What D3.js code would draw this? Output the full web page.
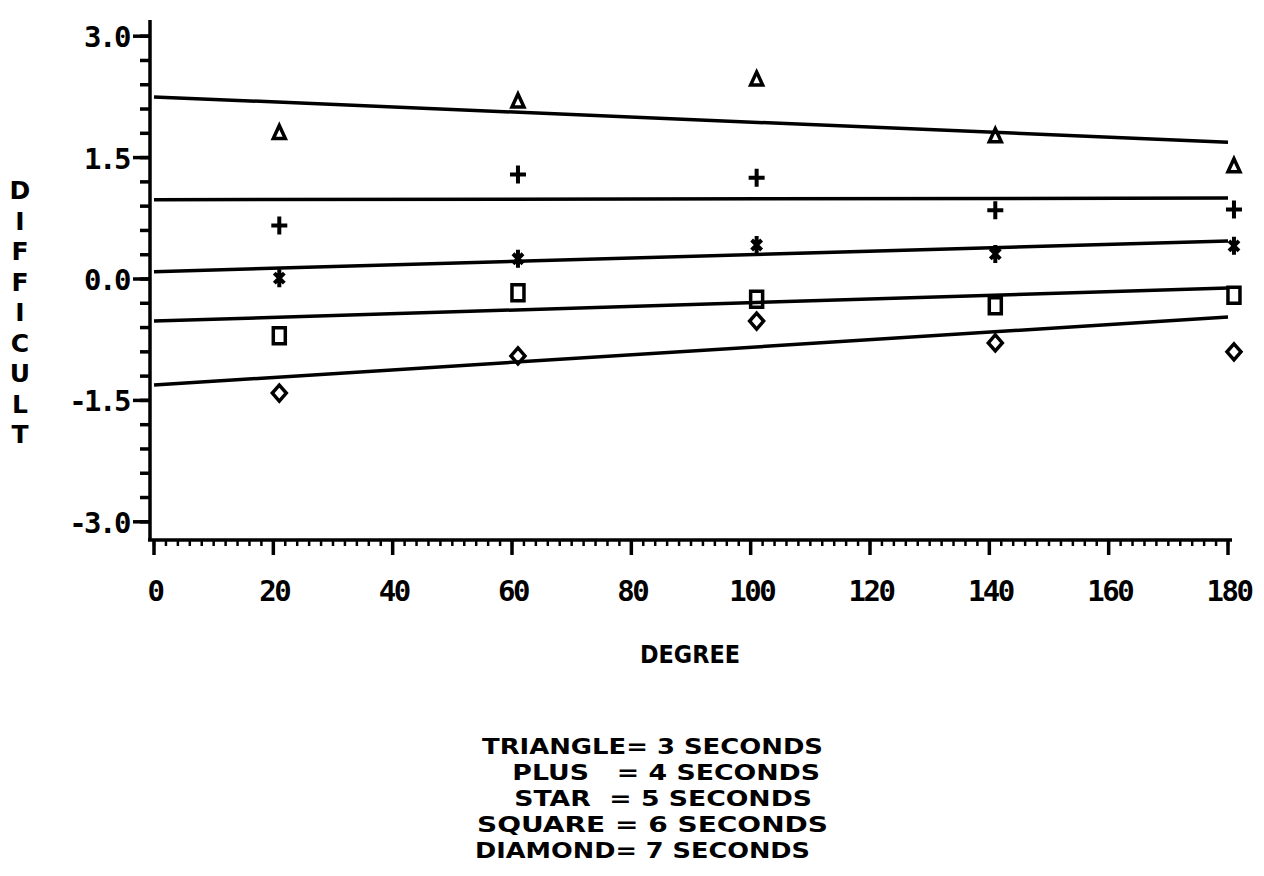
<!DOCTYPE html>
<html>
<head>
<meta charset="utf-8">
<script src="https://cdn.jsdelivr.net/npm/d3@7"></script>
<style>
  body { margin: 0; background: #fff; }
  svg { display: block; }
  .tick-label { font-family: "DejaVu Sans Mono", monospace; font-weight: bold; font-size: 29px; letter-spacing: -2.5px; fill: #000; }
  .title { font-family: "DejaVu Sans", sans-serif; font-weight: bold; fill: #000; }
</style>
</head>
<body>
<div id="chart"></div>
<script>
// x positions of the measured points (degree)
const degrees = [21, 61, 101, 141, 181];

// one series per exposure time
const seriesNames = ["triangle", "plus", "star", "square", "diamond"];
const triangleVals = [1.81, 2.20, 2.47, 1.77, 1.40];
const plusVals     = [0.66, 1.29, 1.25, 0.85, 0.86];
const starVals     = [0.01, 0.25, 0.42, 0.31, 0.41];
const squareVals   = [-0.70, -0.17, -0.25, -0.33, -0.20];
const diamondVals  = [-1.41, -0.95, -0.52, -0.79, -0.90];

// fitted lines: value at degree 0 and degree 180
const fitDegrees = [0, 180];
const triangleFit = [2.25, 1.69];
const plusFit     = [0.98, 1.00];
const starFit     = [0.09, 0.47];
const squareFit   = [-0.52, -0.11];
const diamondFit  = [-1.31, -0.47];

const yTicks = [-3.0, -1.5, 0.0, 1.5, 3.0];
const xTicks = [0, 20, 40, 60, 80, 100, 120, 140, 160, 180];

const legendLines = [
    "TRIANGLE= 3 SECONDS",
    " PLUS   = 4 SECONDS",
    " STAR  = 5 SECONDS",
    "SQUARE = 6 SECONDS",
    "DIAMOND= 7 SECONDS"
];
const yTitle = "DIFFICULT";
const xTitle = "DEGREE";

const width = 1264, height = 876;

const svg = d3.select("#chart").append("svg")
    .attr("width", width)
    .attr("height", height);

const x = d3.scaleLinear().domain([0, 180]).range([154, 1228]);
const y = d3.scaleLinear().domain([-3.2, 3.2]).range([538, 20]);

// y axis
const yAxis = svg.append("g").attr("transform", "translate(150,0)");
yAxis.append("line")
    .attr("x1", 0).attr("x2", 0)
    .attr("y1", y(3.2)).attr("y2", y(-3.2) + 2)
    .attr("stroke", "#000").attr("stroke-width", 3.5);
yAxis.selectAll(".minor")
    .data(d3.range(-30, 31, 3).map(d => d / 10))
    .enter().append("line")
    .attr("x1", -10).attr("x2", 0)
    .attr("y1", d => y(d)).attr("y2", d => y(d))
    .attr("stroke", "#000").attr("stroke-width", 3.5);
yAxis.selectAll(".major")
    .data(yTicks)
    .enter().append("line")
    .attr("x1", -17).attr("x2", 0)
    .attr("y1", d => y(d)).attr("y2", d => y(d))
    .attr("stroke", "#000").attr("stroke-width", 3.5);
yAxis.selectAll(".tick-label")
    .data(yTicks)
    .enter().append("text")
    .attr("class", "tick-label")
    .attr("x", -21)
    .attr("y", d => y(d) + 11)
    .attr("text-anchor", "end")
    .text(d => d.toFixed(1));

// x axis
const xAxis = svg.append("g").attr("transform", "translate(0,540)");
xAxis.append("line")
    .attr("x1", 148).attr("x2", x(180) + 4)
    .attr("y1", 0).attr("y2", 0)
    .attr("stroke", "#000").attr("stroke-width", 3.5);
xAxis.selectAll(".minor")
    .data(d3.range(0, 181, 2))
    .enter().append("line")
    .attr("x1", d => x(d)).attr("x2", d => x(d))
    .attr("y1", 0).attr("y2", 6)
    .attr("stroke", "#000").attr("stroke-width", 2.5);
xAxis.selectAll(".major")
    .data(xTicks)
    .enter().append("line")
    .attr("x1", d => x(d)).attr("x2", d => x(d))
    .attr("y1", 0).attr("y2", 15)
    .attr("stroke", "#000").attr("stroke-width", 3.5);
xAxis.selectAll(".tick-label")
    .data(xTicks)
    .enter().append("text")
    .attr("class", "tick-label")
    .attr("x", d => x(d) + 1)
    .attr("y", 61)
    .attr("text-anchor", "middle")
    .text(d => d);

// axis titles
svg.append("text")
    .attr("class", "title")
    .attr("x", 640).attr("y", 663)
    .attr("font-size", 25)
    .attr("textLength", 100)
    .attr("lengthAdjust", "spacingAndGlyphs")
    .text(xTitle);

svg.selectAll(".ytitle")
    .data(yTitle.split(""))
    .enter().append("text")
    .attr("class", "title")
    .attr("font-family", "DejaVu Sans Mono")
    .attr("font-size", 25)
    .attr("text-anchor", "middle")
    .attr("x", 20)
    .attr("y", (d, i) => 199 + i * 30.5)
    .text(d => d);

// fitted lines
const fits = [triangleFit, plusFit, starFit, squareFit, diamondFit];
const line = d3.line()
    .x(d => x(d[0]))
    .y(d => y(d[1]));
svg.selectAll(".fit")
    .data(fits)
    .enter().append("path")
    .attr("d", f => line(fitDegrees.map((g, i) => [g, f[i]])))
    .attr("fill", "none")
    .attr("stroke", "#000")
    .attr("stroke-width", 3.5);

// markers
const symbols = {
    triangle: "M0,-7L6,6L-6,6Z",
    plus: "M-8,0H8M0,-9V9",
    star: "M0,-9V9M-5,-5L5,5M5,-5L-5,5",
    square: "M-6,-8H6V8H-6Z",
    diamond: "M0,-8L7,0L0,8L-7,0Z"
};
const allVals = [triangleVals, plusVals, starVals, squareVals, diamondVals];
seriesNames.forEach((name, s) => {
    svg.selectAll(".pt-" + name)
        .data(allVals[s])
        .enter().append("path")
        .attr("class", "pt-" + name)
        .attr("transform", (d, i) => `translate(${x(degrees[i])},${y(d)})`)
        .attr("d", symbols[name])
        .attr("fill", "none")
        .attr("stroke", "#000")
        .attr("stroke-width", name === "plus" || name === "star" ? 4 : 3.5);
});

// legend
const legendX = [482, 503, 505, 477, 475];
const legendW = [341, 317, 307, 351, 335];
svg.selectAll(".legend")
    .data(legendLines)
    .enter().append("text")
    .attr("class", "title")
    .attr("font-size", 22)
    .attr("xml:space", "preserve")
    .style("white-space", "pre")
    .attr("x", (d, i) => legendX[i])
    .attr("y", (d, i) => 754 + i * 26)
    .attr("textLength", (d, i) => legendW[i])
    .attr("lengthAdjust", "spacingAndGlyphs")
    .text(d => d);
</script>
</body>
</html>
